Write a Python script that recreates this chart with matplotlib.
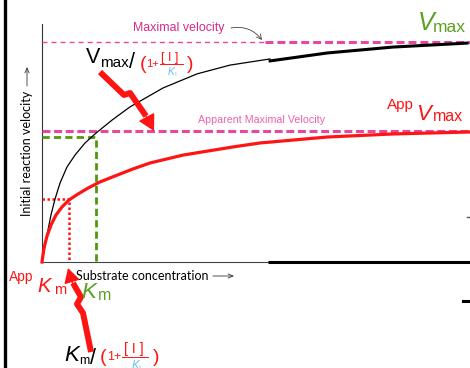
import numpy as np
import matplotlib
matplotlib.use('Agg')
import matplotlib.pyplot as plt

### Schematic Michaelis-Menten curves
### substrate conc. in arbitrary units (0-10), velocity normalised to Vmax=1
vmax = 1.0
app_vmax = 0.595
half_v = 0.568        # green guide (Vmax/2 on the sketch)
app_half_v = 0.286    # red dotted guide
km = 1.25
app_km = 0.62
s_end = 10.0
s_thick = 5.28        # where the drawn lines turn thick

black_s = [0, 0.117, 0.210, 0.304, 0.421, 0.584, 0.771, 1.005, 1.262, 1.636, 2.056, 2.827, 3.621, 4.393, 5.327]
black_v = [0, 0.123, 0.214, 0.286, 0.359, 0.432, 0.486, 0.541, 0.586, 0.645, 0.705, 0.791, 0.855, 0.895, 0.923]
black_s_far = [5.33, 6.66, 8.20, 9.93]
black_v_far = [0.914, 0.950, 0.977, 0.995]

red_s = [0, 0.047, 0.117, 0.210, 0.327, 0.467, 0.631, 0.841, 1.075, 1.355, 1.706, 2.126,
         2.523, 3.294, 4.463, 5.093, 6.659, 8.201, 10.0]
red_v = [0, 0.064, 0.118, 0.168, 0.214, 0.250, 0.282, 0.309, 0.336, 0.364, 0.391, 0.423,
         0.450, 0.486, 0.523, 0.541, 0.568, 0.582, 0.591]

W, H = 470., 368.
PINK = '#e8479d'
PINK_TXT = '#d62b8b'
PINK_LIGHT = '#f060ae'
GREEN = '#4e9a0c'
GREEN_TXT = '#5aa022'
RED = '#ff1414'
BLUE = '#63c6f0'


def fp(x, y):
    ## pixel (from top-left) -> axes fraction
    return (x/W, 1-y/H)


def main():
    fig = plt.figure(figsize=(4.7, 3.68), dpi=100)
    ax = fig.add_axes([0, 0, 1, 1])
    ax.set_xlim(-42/42.8, s_end)
    ax.set_ylim(-106/220., 262/220.)
    ax.axis('off')

    ### Axes lines
    ax.plot([0, 0], [0, 1.082], c='#333333', lw=0.8)
    ax.plot([0, s_thick], [0, 0], c='#444444', lw=0.8)
    ax.plot([s_thick, s_end], [0, 0], c='k', lw=2.2, solid_capstyle='butt')

    ### Vmax lines
    ax.plot([0, 5.2], [vmax, vmax], c=PINK, lw=1.0, ls=(0, (3.6, 2.9)))
    ax.plot([5.2, s_end], [vmax, vmax], c=PINK, lw=2.2, ls=(0, (2.6, 1.3)))
    ax.plot([0, s_end], [app_vmax, app_vmax], c=PINK, lw=2.2, ls=(0, (2.6, 1.2)))

    ### Km guides
    ax.plot([0, km, km], [half_v, half_v, 0], c=GREEN, lw=2.0, ls=(0, (2.6, 1.5)))
    ax.plot([0, app_km, app_km], [app_half_v, app_half_v, 0], c=RED, lw=1.8, ls=(0, (1, 1)))

    ### Curves
    ax.plot(black_s, black_v, c='k', lw=0.9)
    ax.plot(black_s_far, black_v_far, c='k', lw=2.2)
    ax.plot(red_s, red_v, c=RED, lw=2.3, solid_joinstyle='round')

    T = dict(transform=ax.transAxes, ha='left', va='baseline', family='Liberation Sans')
    L = dict(transform=ax.transAxes, family='Lato', fontsize=9)

    ### Left frame and stray marks
    ax.plot(*zip(fp(5, 0), fp(5, H)), transform=ax.transAxes, c='k', lw=2.4)
    ax.plot(*zip(fp(463, 301), fp(470, 301)), transform=ax.transAxes, c='k', lw=2.2)
    ax.plot(*zip(fp(467, 217), fp(470, 217)), transform=ax.transAxes, c='#555555', lw=1)

    ### Axis labels
    ax.text(*fp(76, 280), 'Substrate concentration', ha='left', va='baseline', **L)
    ax.annotate('', xy=fp(234, 276), xytext=fp(213, 276), xycoords='axes fraction',
                arrowprops=dict(arrowstyle='->,head_length=0.35,head_width=0.15', lw=0.6, color='#333333', shrinkA=0, shrinkB=0))
    ax.text(*fp(27, 153), 'Initial reaction velocity', rotation=90, ha='center', va='center', **L)
    ax.annotate('', xy=fp(27, 67), xytext=fp(27, 86), xycoords='axes fraction',
                arrowprops=dict(arrowstyle='->,head_length=0.35,head_width=0.15', lw=0.6, color='#333333', shrinkA=0, shrinkB=0))

    ### Maximal velocity labels
    ax.text(*fp(133, 31), 'Maximal velocity', fontsize=8.9, color=PINK_TXT, **T)
    ax.annotate('', xy=fp(262, 40), xytext=fp(231, 28), xycoords='axes fraction',
                arrowprops=dict(arrowstyle='->,head_length=0.35,head_width=0.18', lw=0.6, color='#444444',
                                connectionstyle='arc3,rad=-0.3', shrinkA=0, shrinkB=0))
    ax.text(*fp(198, 123), 'Apparent Maximal Velocity', fontsize=7.7, color=PINK_LIGHT, **T)

    ### Vmax / App Vmax at right
    ax.text(*fp(418, 30), 'V', fontsize=18, color=GREEN_TXT, fontstyle='italic', **T)
    ax.text(*fp(433, 32), 'max', fontsize=12.5, color=GREEN_TXT, **T)
    ax.text(*fp(387, 109), 'App', fontsize=11, color=RED, **T)
    ax.text(*fp(416, 120), 'V', fontsize=16, color=RED, fontstyle='italic', **T)
    ax.text(*fp(433, 121), 'max', fontsize=11.5, color=RED, **T)

    ### Km labels at bottom
    ax.text(*fp(9, 281), 'App', fontsize=10, color=RED, **T)
    ax.text(*fp(37, 292), 'K', fontsize=14.5, color=RED, fontstyle='italic', **T)
    ax.text(*fp(54, 294), 'm', fontsize=10.5, color=RED, **T)
    ax.text(*fp(81, 298), 'K', fontsize=16, color=GREEN_TXT, fontstyle='italic', **T)
    ax.text(*fp(98, 300), 'm', fontsize=11.5, color=GREEN_TXT, **T)

    ### Vmax/(1+[I]/KI)
    ax.text(*fp(86, 63), 'V', fontsize=15.5, **T)
    ax.text(*fp(100, 67), 'max', fontsize=11, **T)
    ax.text(*fp(129, 68), '/', fontsize=15.5, **T)
    fraction(ax, 140, 67, T, 1.0)

    ### Km/(1+[I]/KI)
    ax.text(*fp(64, 361), 'K', fontsize=16, fontstyle='italic', **T)
    ax.text(*fp(79, 364), 'm', fontsize=9, **T)
    ax.text(*fp(90, 364), '/', fontsize=15.5, **T)
    fraction(ax, 100, 360, T, 1.12)

    ### Red hand-drawn arrows
    shaft = [fp(100, 72), fp(124, 95), fp(130, 93), fp(146, 116)]
    ax.plot(*zip(*shaft), transform=ax.transAxes, c=RED, lw=4.3, solid_joinstyle='round', solid_capstyle='butt')
    ax.annotate('', xy=fp(154, 131), xytext=fp(145, 114), xycoords='axes fraction',
                arrowprops=dict(arrowstyle='-|>,head_length=1.0,head_width=0.55', mutation_scale=10,
                                lw=1, color=RED, shrinkA=0, shrinkB=0))
    shaft = [fp(91, 352), fp(83, 313), fp(77, 304), fp(81, 297), fp(73, 283)]
    ax.plot(*zip(*shaft), transform=ax.transAxes, c=RED, lw=4.3, solid_joinstyle='round', solid_capstyle='butt')
    ax.annotate('', xy=fp(68, 268), xytext=fp(73, 285), xycoords='axes fraction',
                arrowprops=dict(arrowstyle='-|>,head_length=0.9,head_width=0.5', mutation_scale=10,
                                lw=1, color=RED, shrinkA=0, shrinkB=0))

    fig.savefig('out.png', dpi=100)
    return


def fraction(ax, x, y, T, sc):
    ## (1 + [I]/K_I), red with light blue K_I; x,y = left/baseline in pixels
    ax.text(*fp(x, y+2), '(', fontsize=14, color=RED, **T)
    ax.text(*fp(x+6*sc, y), '1+', fontsize=8*sc, color=RED, **T)
    ax.text(*fp(x+21*sc, y-6*sc), '[ I ]', fontsize=9*sc, color=RED, **T)
    ax.plot(*zip(fp(x+20*sc, y-3*sc), fp(x+43*sc, y-3*sc)), transform=ax.transAxes, c=RED, lw=0.7)
    ax.text(*fp(x+28*sc, y+8*sc), 'K', fontsize=7.5*sc, color=BLUE, fontstyle='italic', **T)
    ax.text(*fp(x+34*sc, y+9*sc), 'I', fontsize=4.5*sc, color=BLUE, **T)
    ax.text(*fp(x+47*sc, y+2), ')', fontsize=14, color=RED, **T)


if __name__ == "__main__":
    main()
